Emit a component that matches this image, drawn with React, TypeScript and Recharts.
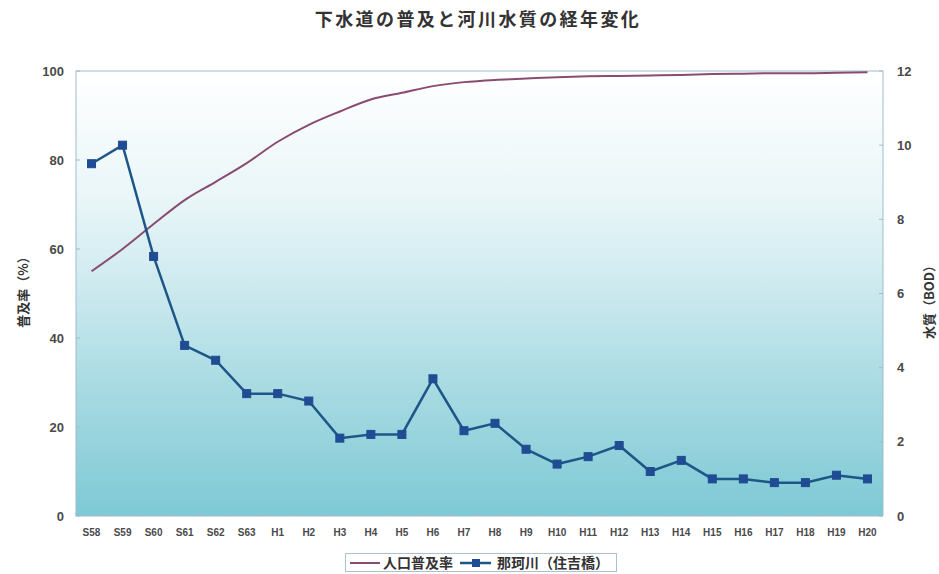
import { ComposedChart, Line, XAxis, YAxis, CartesianGrid, Legend, ReferenceLine } from 'recharts';

// 年度（昭和58年〜平成20年）
const years = [
  'S58', 'S59', 'S60', 'S61', 'S62', 'S63',
  'H1', 'H2', 'H3', 'H4', 'H5', 'H6', 'H7', 'H8', 'H9', 'H10',
  'H11', 'H12', 'H13', 'H14', 'H15', 'H16', 'H17', 'H18', 'H19', 'H20',
];

// 人口普及率 (%)
const coverage = [
  55, 60, 65.6, 71, 75.1, 79.3, 84.1, 87.9, 90.9, 93.6, 95.1, 96.6, 97.5,
  98.0, 98.3, 98.6, 98.8, 98.9, 99.0, 99.1, 99.3, 99.4, 99.5, 99.5, 99.6, 99.7,
];

// 那珂川（住吉橋）BOD (mg/L)
const bod = [
  9.5, 10.0, 7.0, 4.6, 4.2, 3.3, 3.3, 3.1, 2.1, 2.2, 2.2, 3.7, 2.3,
  2.5, 1.8, 1.4, 1.6, 1.9, 1.2, 1.5, 1.0, 1.0, 0.9, 0.9, 1.1, 1.0,
];

const leftTicks = [0, 20, 40, 60, 80, 100];
const rightTicks = [0, 2, 4, 6, 8, 10, 12];

const data = years.map((year, i) => ({ year, coverage: coverage[i], bod: bod[i] }));

const FONT = '"Noto Sans CJK JP", "Noto Sans", sans-serif';
const NUM_FONT = '"Liberation Sans", Arial, sans-serif';
const BORDER = '#9fbccb';
const RED = '#8a4a72';
const BLUE = '#1d5687';
const MARKER = '#1f4c92';
const LABEL = '#4a4a4a';

const XTick = (props: any) => {
  const { x, y, payload } = props;
  const half = payload?.offset || 15.5;
  return (
    <g>
      <line x1={x - half} x2={x - half} y1={y - 16} y2={y - 20} stroke={BORDER} />
      <text x={x} y={y} dy="0.35em" textAnchor="middle" fontFamily={NUM_FONT} fontWeight={700} fontSize={10} fill={LABEL}>
        {payload.value}
      </text>
    </g>
  );
};

const LeftTick = (props: any) => {
  const { x, y, payload } = props;
  return (
    <g>
      <line x1={x + 12} x2={x + 16} y1={y} y2={y} stroke={BORDER} />
      <text x={x} y={y} dy="0.35em" textAnchor="end" fontFamily={NUM_FONT} fontWeight={700} fontSize={13} fill={LABEL}>
        {payload.value}
      </text>
    </g>
  );
};

const RightTick = (props: any) => {
  const { x, y, payload } = props;
  return (
    <g>
      <line x1={x - 14} x2={x - 18} y1={y} y2={y} stroke={BORDER} />
      <text x={x} y={y} dy="0.35em" textAnchor="start" fontFamily={NUM_FONT} fontWeight={700} fontSize={13} fill={LABEL}>
        {payload.value}
      </text>
    </g>
  );
};

const SquareDot = (props: any) => {
  const { cx, cy, index } = props;
  if (cx == null || cy == null) return <g key={index} />;
  return <rect key={index} x={cx - 4} y={cy - 4} width={8} height={8} fill={MARKER} stroke={MARKER} />;
};

const LegendBox = () => (
  <div style={{ position: 'relative', width: 939, height: 20 }}>
    <div
      style={{
        position: 'absolute',
        left: 345,
        top: 1,
        width: 270,
        height: 17,
        border: '1px solid #a9c1d1',
        background: '#fff',
        display: 'flex',
        alignItems: 'center',
        fontFamily: FONT,
        fontWeight: 700,
        fontSize: 14,
        color: '#333',
        lineHeight: '17px',
        whiteSpace: 'nowrap',
      }}
    >
      <svg width={37} height={10}>
        <line x1={4} x2={34} y1={5} y2={5} stroke={RED} strokeWidth={2} />
      </svg>
      <span>人口普及率</span>
      <svg width={44} height={10}>
        <line x1={7} x2={38} y1={5} y2={5} stroke={BLUE} strokeWidth={2.5} />
        <rect x={19} y={1} width={8} height={8} fill={MARKER} />
      </svg>
      <span>那珂川（住吉橋）</span>
    </div>
  </div>
);

export default function App() {
  return (
    <div style={{ position: 'absolute', left: 0, top: 0, background: '#fff' }}>
      <ComposedChart width={939} height={574} data={data} margin={{ top: 71, right: 16, bottom: 2, left: 26 }}>
        <defs>
          <linearGradient id="plotBg" x1="0" y1="0" x2="0" y2="1">
            <stop offset="0%" stopColor="#ffffff" />
            <stop offset="28%" stopColor="#eaf6f8" />
            <stop offset="45%" stopColor="#d2ecf1" />
            <stop offset="70%" stopColor="#aadbe3" />
            <stop offset="100%" stopColor="#7dc9d5" />
          </linearGradient>
        </defs>
        <CartesianGrid horizontal={false} vertical={false} fill="url(#plotBg)" />
        <XAxis
          dataKey="year"
          scale="band"
          interval={0}
          height={36}
          tickSize={0}
          tickMargin={16}
          tickLine={false}
          axisLine={{ stroke: BORDER }}
          tick={(p: any) => <XTick {...p} />}
        />
        <YAxis
          yAxisId="left"
          domain={[0, 100]}
          ticks={leftTicks}
          width={50}
          tickSize={0}
          tickMargin={12}
          tickLine={false}
          axisLine={{ stroke: BORDER }}
          tick={(p: any) => <LeftTick {...p} />}
        />
        <YAxis
          yAxisId="right"
          orientation="right"
          domain={[0, 12]}
          ticks={rightTicks}
          width={40}
          tickSize={0}
          tickMargin={14}
          tickLine={false}
          axisLine={{ stroke: BORDER }}
          tick={(p: any) => <RightTick {...p} />}
        />
        <ReferenceLine yAxisId="left" y={100} stroke={BORDER} />
        <Line
          yAxisId="left"
          type="monotone"
          dataKey="coverage"
          name="人口普及率"
          stroke={RED}
          strokeWidth={2}
          dot={false}
          isAnimationActive={false}
        />
        <Line
          yAxisId="right"
          type="linear"
          dataKey="bod"
          name="那珂川（住吉橋）"
          stroke={BLUE}
          strokeWidth={2.5}
          dot={(p: any) => <SquareDot key={p.index} {...p} />}
          isAnimationActive={false}
        />
        <Legend verticalAlign="bottom" content={() => <LegendBox />} wrapperStyle={{ left: 0, width: 939 }} />
        <text x={478} y={20} dy="0.35em" textAnchor="middle" fontFamily={FONT} fontWeight={700} fontSize={18} letterSpacing={2.4} fill="#333">
          下水道の普及と河川水質の経年変化
        </text>
        <text
          x={23}
          y={289}
          dy="0.35em"
          textAnchor="middle"
          transform="rotate(-90 23 289)"
          fontFamily={FONT}
          fontWeight={700}
          fontSize={13}
          fill="#333"
        >
          普及率（%）
        </text>
        <text
          x={929}
          y={299}
          dy="0.35em"
          textAnchor="middle"
          transform="rotate(-90 929 299)"
          fontFamily={FONT}
          fontWeight={700}
          fontSize={13}
          fill="#333"
        >
          水質（BOD）
        </text>
      </ComposedChart>
    </div>
  );
}
